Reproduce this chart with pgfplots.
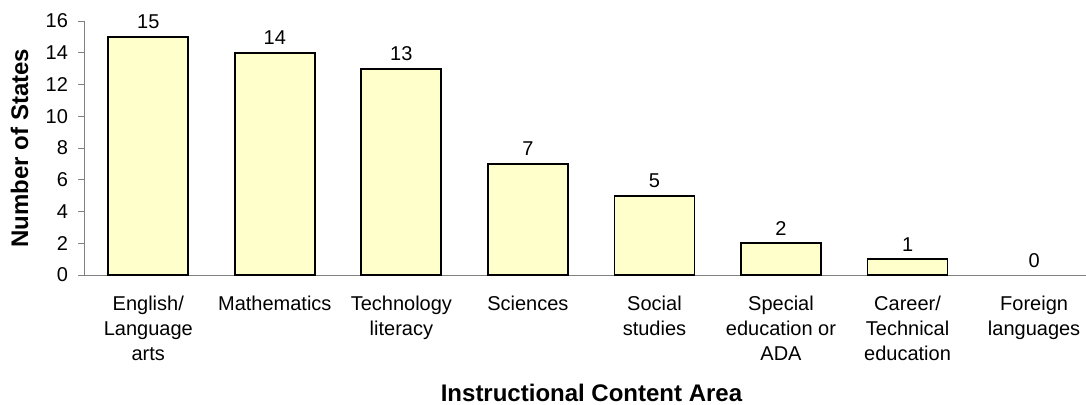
\documentclass[border=0pt]{standalone}
\usepackage{fontspec}
\setmainfont{Liberation Sans}
\usepackage{pgfplots}
\pgfplotsset{compat=1.18}
\definecolor{barfill}{HTML}{FFFFCC}
\definecolor{axgray}{HTML}{808080}
\begin{document}
\begin{tikzpicture}
\begin{axis}[
  at={(0,0)}, anchor=south west,
  scale only axis,
  width=500.5pt, height=127pt,
  xmin=-0.5, xmax=7.41,
  ymin=0, ymax=16,
  ytick={0,2,...,16},
  xtick={0,...,7},
  xticklabels={{English/\\Language\\arts},{Mathematics},{Technology\\literacy},{Sciences},{Social\\studies},{Special\\education or\\ADA},{Career/\\Technical\\education},{Foreign\\languages}},
  x tick style={draw=none},
  extra x ticks={-0.5,0.5,1.5,2.5,3.5,4.5,5.5,6.5},
  extra x tick labels={},
  extra x tick style={major tick length=3pt, tick style={draw=axgray, line width=0.5pt}},
  axis x line*=bottom,
  axis y line*=left,
  axis line style={draw=axgray, line width=0.5pt},
  y tick style={draw=axgray, line width=0.5pt},
  tick align=outside,
  major tick length=3.5pt,
  /pgf/number format/assume math mode=true,
  tick label style={font=\fontsize{10}{12.5}\selectfont, text=black},
  xticklabel style={align=center, yshift=-3.5pt},
  yticklabel style={xshift=-1.5pt},
  label style={font=\bfseries\fontsize{12}{14}\selectfont},
  xlabel={Instructional Content Area},
  xlabel style={at={(axis description cs:0.506,0)}, anchor=base, yshift=-63.3pt},
  ylabel={Number of States},
  ylabel style={at={(axis description cs:0,0.5)}, anchor=base, yshift=28.5pt},
  nodes near coords,
  every node near coord/.append style={font=\fontsize{10}{12}\selectfont, yshift=0.2pt, text=black},
]
\addplot[ybar, bar shift=0pt, bar width=40pt, fill=barfill, draw=black, line width=0.9pt]
  coordinates {(0,15) (1,14) (2,13) (3,7) (4,5) (5,2) (6,1)};
\addplot[ybar, bar shift=0pt, bar width=40pt, draw=none, fill=none]
  coordinates {(7,0)};
\end{axis}
\pgfresetboundingbox
\useasboundingbox (-42.5pt,-64.5pt) rectangle (500.5pt,137.5pt);
\end{tikzpicture}
\end{document}
